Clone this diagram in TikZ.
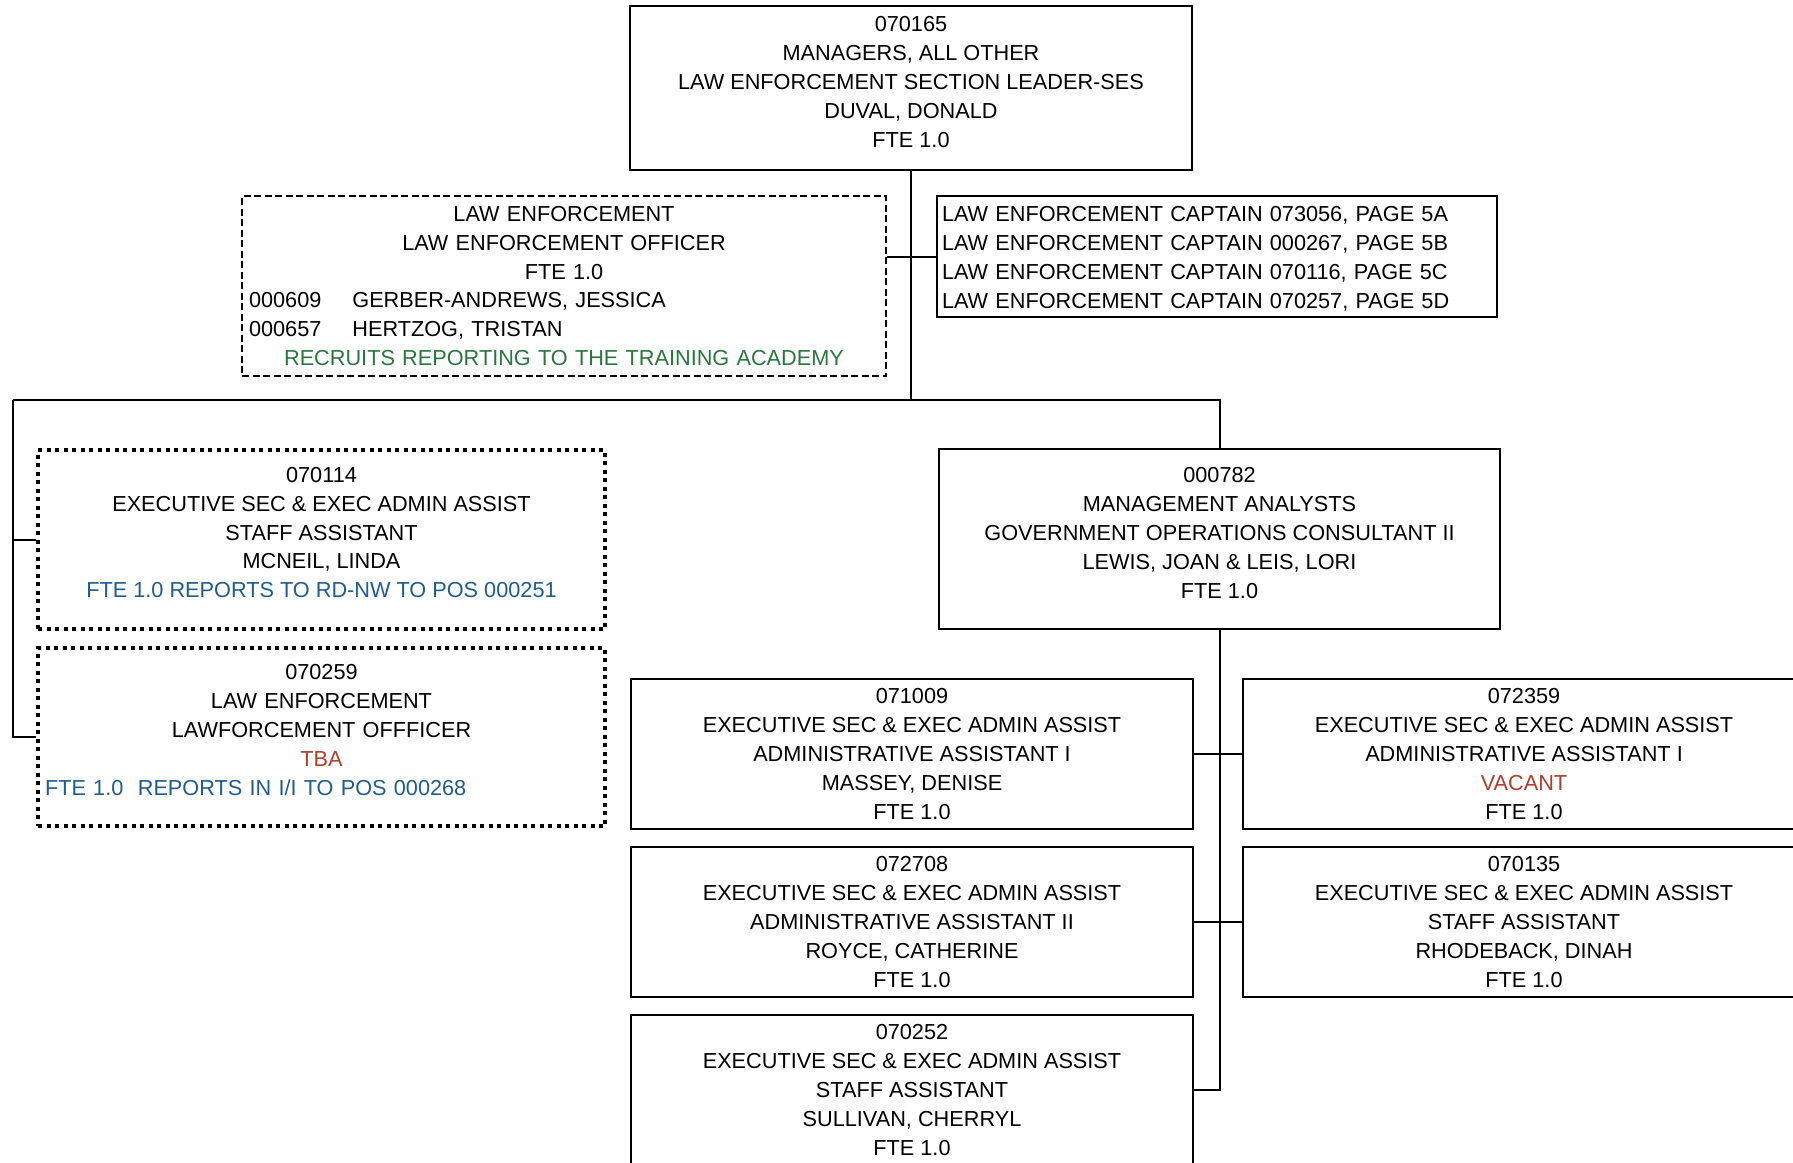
\documentclass[tikz,border=0pt]{standalone}
\usepackage{fontspec}
\setmainfont{Liberation Sans}
\newcommand\orgfont{\fontsize{21.7}{28.9}\selectfont}
% extra depth under the last line lifts the text block inside tall boxes
\newcommand\liftby[1]{\rule[-#1]{0pt}{#1}}
\definecolor{recruitgreen}{RGB}{42,118,62}
\definecolor{noteblue}{RGB}{32,92,142}
\definecolor{vacantred}{RGB}{172,62,46}
\begin{document}
\begin{tikzpicture}[x=1pt,y=-1pt,
  box/.style={draw, rectangle, line width=2.2pt, inner sep=0pt, align=center, font=\orgfont},
  dashbox/.style={box, line width=2pt, dash pattern=on 7pt off 3.5pt},
  dotbox/.style={box, line width=4pt, dash pattern=on 4pt off 4.5pt},
  posbox/.style={box, minimum width=562pt, minimum height=150pt},
  link/.style={draw, line width=2pt}]
\useasboundingbox (0,0) rectangle (1793,1162);
\clip (0,0) rectangle (1793,1162);

% section leader
\node[box, minimum width=562pt, minimum height=164pt] (top) at (911,88)
  {070165\\MANAGERS, ALL OTHER\\LAW ENFORCEMENT SECTION LEADER-SES\\DUVAL, DONALD\\FTE 1.0\liftby{12pt}};

% recruits at the academy
\node[dashbox, minimum width=644pt, minimum height=180pt, text width=630pt] (leo) at (564,286)
  {LAW ENFORCEMENT\\LAW ENFORCEMENT OFFICER\\FTE 1.0\\
   \makebox[630pt][l]{000609\hspace{31pt}GERBER-ANDREWS, JESSICA}\\
   \makebox[630pt][l]{000657\hspace{31pt}HERTZOG, TRISTAN}\\
   \textcolor{recruitgreen}{RECRUITS REPORTING TO THE TRAINING ACADEMY}};

% captains on other pages
\node[box, align=left, minimum width=560pt, minimum height=121pt, text width=550pt] (cap) at (1217,256.5)
  {\rule{0pt}{20pt}LAW ENFORCEMENT CAPTAIN 073056, PAGE 5A\\LAW ENFORCEMENT CAPTAIN 000267, PAGE 5B\\
   LAW ENFORCEMENT CAPTAIN 070116, PAGE 5C\\LAW ENFORCEMENT CAPTAIN 070257, PAGE 5D};

% positions reporting elsewhere
\node[dotbox, minimum width=567pt, minimum height=179pt] (sa) at (321.5,539.5)
  {070114\\EXECUTIVE SEC \& EXEC ADMIN ASSIST\\STAFF ASSISTANT\\MCNEIL, LINDA\\
   \textcolor{noteblue}{FTE 1.0 REPORTS TO RD-NW TO POS 000251}\liftby{14pt}};
\node[dotbox, minimum width=567pt, minimum height=178pt, text width=553pt] (le2) at (321.5,737)
  {070259\\LAW ENFORCEMENT\\LAWFORCEMENT OFFFICER\\\textcolor{vacantred}{TBA}\\
   \makebox[553pt][l]{\textcolor{noteblue}{FTE 1.0\ \ REPORTS IN I/I TO POS 000268}}\liftby{14pt}};

% management analysts
\node[box, minimum width=561pt, minimum height=180pt] (ma) at (1219.5,539)
  {000782\\MANAGEMENT ANALYSTS\\GOVERNMENT OPERATIONS CONSULTANT II\\LEWIS, JOAN \& LEIS, LORI\\FTE 1.0\liftby{12pt}};

% support staff
\node[posbox] (a1) at (912,754)
  {071009\\EXECUTIVE SEC \& EXEC ADMIN ASSIST\\ADMINISTRATIVE ASSISTANT I\\MASSEY, DENISE\\FTE 1.0};
\node[posbox] (a2) at (1524,754)
  {072359\\EXECUTIVE SEC \& EXEC ADMIN ASSIST\\ADMINISTRATIVE ASSISTANT I\\\textcolor{vacantred}{VACANT}\\FTE 1.0};
\node[posbox] (a3) at (912,922)
  {072708\\EXECUTIVE SEC \& EXEC ADMIN ASSIST\\ADMINISTRATIVE ASSISTANT II\\ROYCE, CATHERINE\\FTE 1.0};
\node[posbox] (a4) at (1524,922)
  {070135\\EXECUTIVE SEC \& EXEC ADMIN ASSIST\\STAFF ASSISTANT\\RHODEBACK, DINAH\\FTE 1.0};
\node[posbox] (a5) at (912,1090)
  {070252\\EXECUTIVE SEC \& EXEC ADMIN ASSIST\\STAFF ASSISTANT\\SULLIVAN, CHERRYL\\FTE 1.0};

% reporting lines
\coordinate (j1) at (911,257);
\coordinate (lbus) at (13,400);
\coordinate (mbus) at (911,400);
\coordinate (rbus) at (1219.5,400);
\path[link] (top.south) -- (mbus);
\path[link] (leo.east |- j1) -- (cap.west |- j1);
\path[link] (lbus) -- (rbus) -- (ma.north);
\path[link] (lbus) |- (sa.west);
\path[link] (lbus) |- (le2.west);
\path[link] (ma.south) |- (a5.east);
\path[link] (a1.east) -- (a2.west);
\path[link] (a3.east) -- (a4.west);
\end{tikzpicture}
\end{document}
